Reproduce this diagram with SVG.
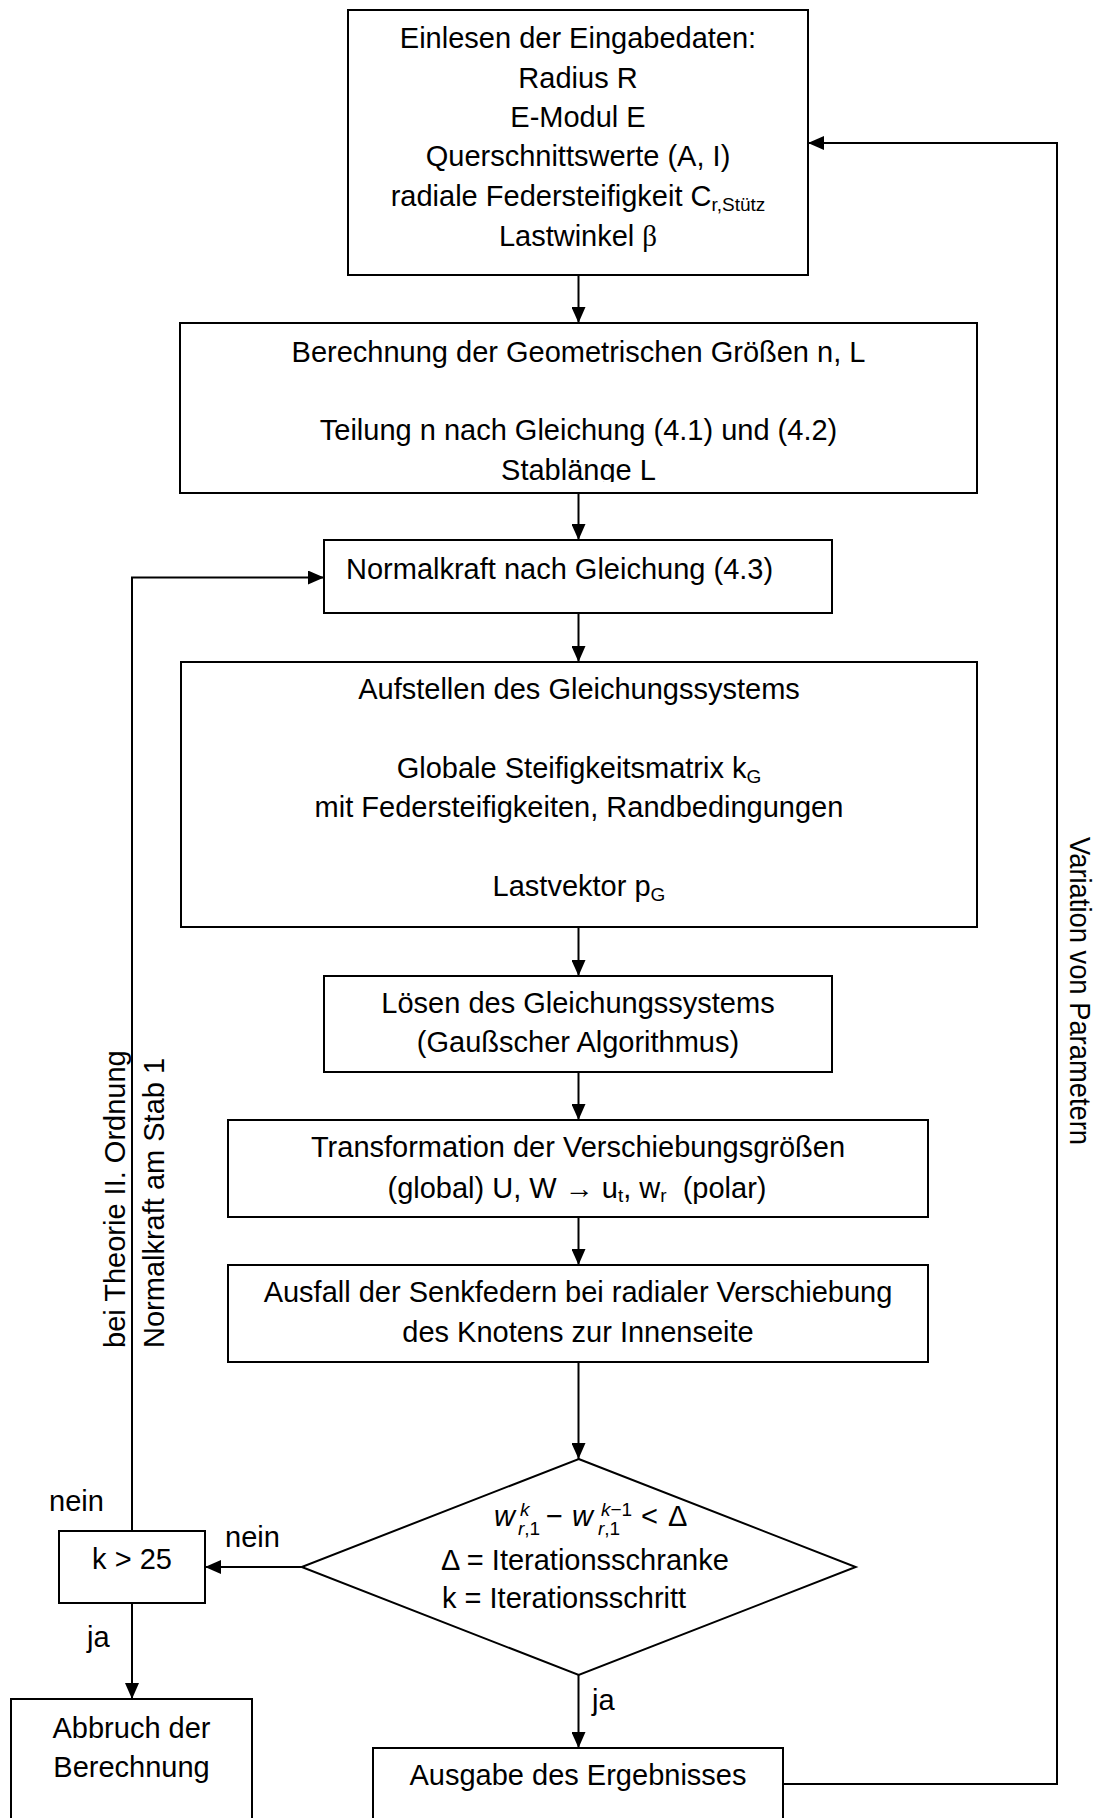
<svg xmlns="http://www.w3.org/2000/svg" width="1098" height="1818" viewBox="0 0 1098 1818">
<style>
  .box{fill:#fff;stroke:#000;stroke-width:2}
  .t{font-family:"Liberation Sans",Arial,sans-serif;font-size:29px;fill:#000}
  .c{text-anchor:middle}
  .sub{font-size:19px}
  .it{font-style:italic}
  .conn{fill:none;stroke:#000;stroke-width:2}
</style>
<defs>
  <marker id="arr" markerUnits="userSpaceOnUse" markerWidth="16" markerHeight="14" refX="16" refY="7" orient="auto">
    <path d="M0,0 L16,7 L0,14 z" fill="#000"/>
  </marker>
  <clipPath id="clipStab"><rect x="180" y="323" width="797" height="159"/></clipPath>
</defs>
<rect width="1098" height="1818" fill="#fff"/>

<!-- connectors -->
<g id="connectors" class="conn">
  <line x1="578.5" y1="275" x2="578.5" y2="323" marker-end="url(#arr)"/>
  <line x1="578.5" y1="493" x2="578.5" y2="540" marker-end="url(#arr)"/>
  <line x1="578.5" y1="613" x2="578.5" y2="662" marker-end="url(#arr)"/>
  <line x1="578.5" y1="927" x2="578.5" y2="976" marker-end="url(#arr)"/>
  <line x1="578.5" y1="1072" x2="578.5" y2="1120" marker-end="url(#arr)"/>
  <line x1="578.5" y1="1217" x2="578.5" y2="1265" marker-end="url(#arr)"/>
  <line x1="578.5" y1="1362" x2="578.5" y2="1459" marker-end="url(#arr)"/>
  <line x1="578.5" y1="1675" x2="578.5" y2="1748" marker-end="url(#arr)"/>
  <line x1="301.7" y1="1567" x2="205" y2="1567" marker-end="url(#arr)"/>
  <line x1="132" y1="1603" x2="132" y2="1699" marker-end="url(#arr)"/>
  <polyline points="132,1531 132,577.5 324,577.5" marker-end="url(#arr)"/>
  <polyline points="783,1784 1057,1784 1057,143 808,143" marker-end="url(#arr)"/>
</g>

<!-- connector labels -->
<g id="labels" class="t">
  <text x="49" y="1511">nein</text>
  <text x="225" y="1547">nein</text>
  <text x="87" y="1647">ja</text>
  <text x="592" y="1710">ja</text>
  <text transform="translate(124.5,1348) rotate(-90)">bei Theorie II. Ordnung</text>
  <text transform="translate(164,1348) rotate(-90)">Normalkraft am Stab 1</text>
  <text transform="translate(1070,837) rotate(90)" style="font-size:30px" textLength="308" lengthAdjust="spacingAndGlyphs">Variation von Parametern</text>
</g>

<g id="input">
  <rect class="box" x="348" y="10" width="460" height="265"/>
  <g class="t c">
    <text x="578" y="48">Einlesen der Eingabedaten:</text>
    <text x="578" y="87.5">Radius R</text>
    <text x="578" y="127">E-Modul E</text>
    <text x="578" y="166">Querschnittswerte (A, I)</text>
    <text x="578" y="205.5">radiale Federsteifigkeit C<tspan class="sub" dy="5">r,Stütz</tspan></text>
    <text x="578" y="246">Lastwinkel <tspan style="font-family:'Liberation Serif',serif">β</tspan></text>
  </g>
</g>

<g id="geometry">
  <rect class="box" x="180" y="323" width="797" height="170"/>
  <g class="t c">
    <text x="578.5" y="362">Berechnung der Geometrischen Größen n, L</text>
    <text x="578.5" y="440">Teilung n nach Gleichung (4.1) und (4.2)</text>
    <text x="578.5" y="479.5" clip-path="url(#clipStab)">Stablänge L</text>
  </g>
</g>

<g id="normalforce">
  <rect class="box" x="324" y="540" width="508" height="73"/>
  <text class="t" x="346" y="579">Normalkraft nach Gleichung (4.3)</text>
</g>

<g id="assembly">
  <rect class="box" x="181" y="662" width="796" height="265"/>
  <g class="t c">
    <text x="579" y="699">Aufstellen des Gleichungssystems</text>
    <text x="579" y="778">Globale Steifigkeitsmatrix k<tspan class="sub" dy="5">G</tspan></text>
    <text x="579" y="817">mit Federsteifigkeiten, Randbedingungen</text>
    <text x="579" y="896">Lastvektor p<tspan class="sub" dy="5">G</tspan></text>
  </g>
</g>

<g id="solve">
  <rect class="box" x="324" y="976" width="508" height="96"/>
  <g class="t c">
    <text x="578" y="1012.7">Lösen des Gleichungssystems</text>
    <text x="578" y="1051.7">(Gaußscher Algorithmus)</text>
  </g>
</g>

<g id="transform">
  <rect class="box" x="228" y="1120" width="700" height="97"/>
  <g class="t c">
    <text x="578" y="1156.7">Transformation der Verschiebungsgrößen</text>
    <text x="577" y="1198" xml:space="preserve">(global) U, W → u<tspan class="sub" dy="4">t</tspan><tspan dy="-4">, w</tspan><tspan class="sub" dy="4">r</tspan><tspan dy="-4">  (polar)</tspan></text>
  </g>
</g>

<g id="springs">
  <rect class="box" x="228" y="1265" width="700" height="97"/>
  <g class="t c">
    <text x="578" y="1301.7">Ausfall der Senkfedern bei radialer Verschiebung</text>
    <text x="578" y="1341.7">des Knotens zur Innenseite</text>
  </g>
</g>

<g id="convergence">
  <polygon class="box" points="578.7,1459 855.7,1567 578.7,1675 301.7,1567"/>
  <g class="t">
    <text class="it" x="494" y="1526">w</text>
    <text class="sub it" x="520" y="1516">k</text>
    <text class="sub" x="518" y="1535"><tspan class="it">r</tspan>,1</text>
    <text x="546" y="1526">−</text>
    <text class="it" x="572" y="1526">w</text>
    <text class="sub" x="601" y="1516"><tspan class="it">k</tspan>−1</text>
    <text class="sub" x="598" y="1535"><tspan class="it">r</tspan>,1</text>
    <text x="641" y="1526">&lt;</text>
    <text x="668" y="1526">Δ</text>
    <text x="441" y="1570">Δ = Iterationsschranke</text>
    <text x="442" y="1608">k = Iterationsschritt</text>
  </g>
</g>

<g id="limit">
  <rect class="box" x="59" y="1531" width="146" height="72"/>
  <text class="t c" x="132" y="1569">k &gt; 25</text>
</g>

<g id="abort">
  <rect class="box" x="11" y="1699" width="241" height="150"/>
  <g class="t c">
    <text x="131.5" y="1738">Abbruch der</text>
    <text x="131.5" y="1777">Berechnung</text>
  </g>
</g>

<g id="output">
  <rect class="box" x="373" y="1748" width="410" height="100"/>
  <text class="t c" x="578" y="1785">Ausgabe des Ergebnisses</text>
</g>
</svg>
